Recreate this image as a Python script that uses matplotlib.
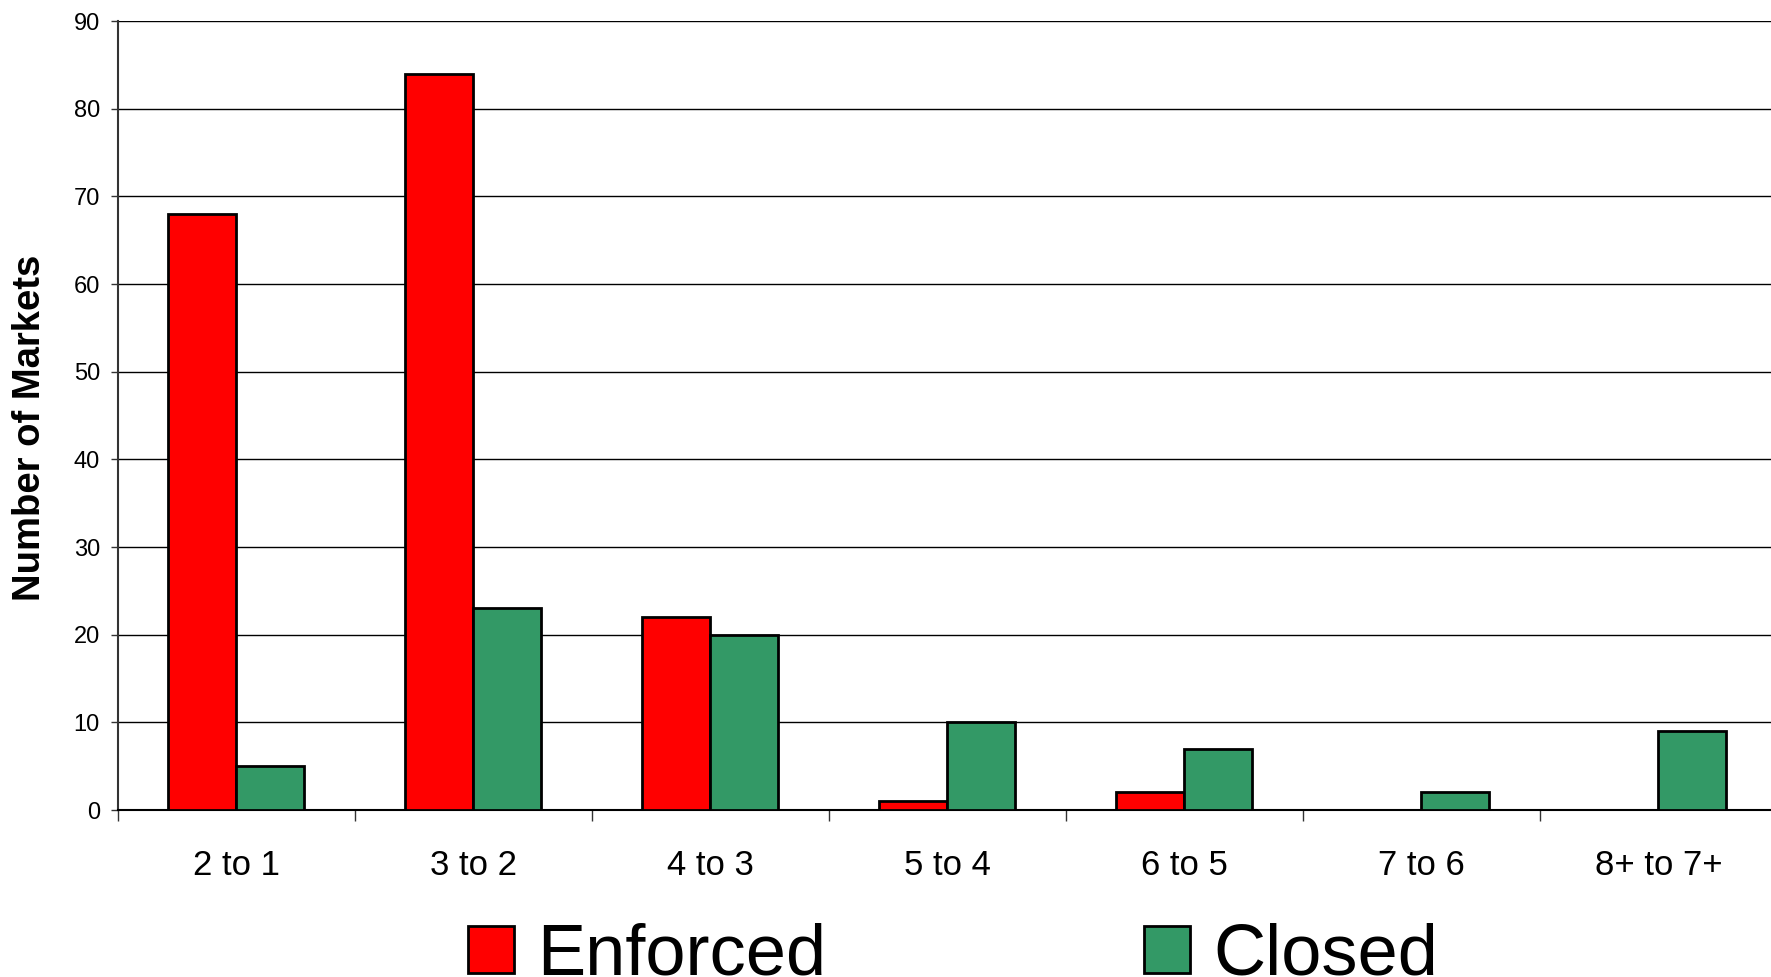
import numpy as np
import matplotlib
matplotlib.use("Agg")
import matplotlib.pyplot as plt

plt.rcParams['font.family'] = ['Liberation Sans', 'DejaVu Sans']

categories = ["2 to 1", "3 to 2", "4 to 3", "5 to 4", "6 to 5", "7 to 6", "8+ to 7+"]
enforced = [68, 84, 22, 1, 2, 0, 0]
closed = [5, 23, 20, 10, 7, 2, 9]

fig = plt.figure(figsize=(17.71, 9.77), dpi=100)
ax = fig.add_axes([0.0666, 0.1709, 0.9367, 0.8076])

x = np.arange(len(categories))
w = 0.287
b1 = ax.bar(x - w / 2, enforced, w, color="#FF0000", edgecolor="black", linewidth=2.0,
            label="Enforced", zorder=3)
b2 = ax.bar(x + w / 2, closed, w, color="#339966", edgecolor="black", linewidth=2.0,
            label="Closed", zorder=3)

ax.set_xlim(-0.5, len(categories) - 0.5)
ax.set_ylim(0, 90)
ax.set_yticks(range(0, 91, 10))
ax.yaxis.grid(True, color="black", linewidth=1.0, zorder=0)
ax.set_axisbelow(True)

ax.set_xticks(x)
ax.set_xticklabels(categories, fontsize=25)
ax.set_xticks(np.arange(-0.5, len(categories), 1), minor=True)
ax.tick_params(axis="x", which="major", length=0, pad=28)
ax.tick_params(axis="x", which="minor", length=8, width=1.0, direction="out", color="#333333")
ax.tick_params(axis="y", length=5, width=1.0, pad=8, labelsize=17, color="#333333")

for s in ["top", "right"]:
    ax.spines[s].set_visible(False)
ax.spines["left"].set_color("#333333")
ax.spines["left"].set_linewidth(1.5)
ax.spines["bottom"].set_color("black")
ax.spines["bottom"].set_linewidth(1.5)

ax.set_ylabel("Number of Markets", fontsize=27.5, fontweight="bold")
ax.yaxis.set_label_coords(-0.042, 0.485)

fig.legend(handles=[b1, b2], loc="center", bbox_to_anchor=(0.538, 0.021), ncol=2,
           frameon=False, fontsize=52, handlelength=0.64, handleheight=0.62,
           handletextpad=0.32, columnspacing=4.4, borderpad=0)

fig.savefig("out.png", dpi=100)
